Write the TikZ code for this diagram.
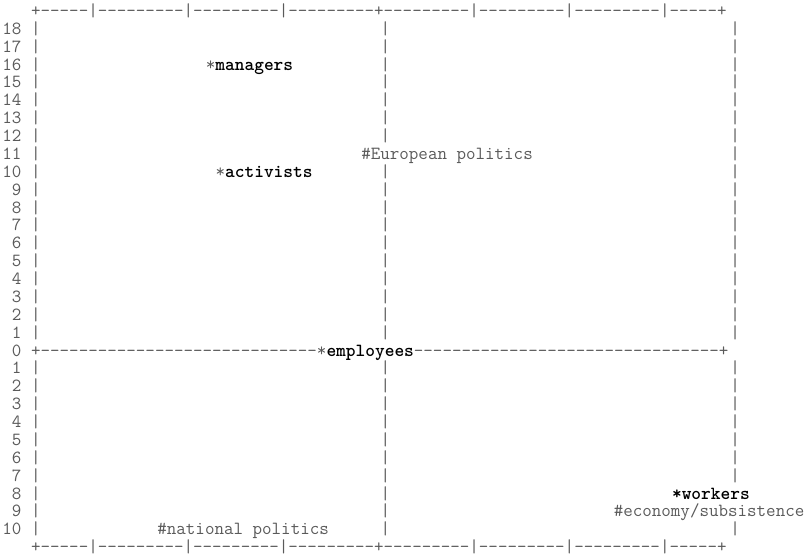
\documentclass[tikz,border=0pt]{standalone}
\definecolor{ink}{HTML}{5A5A5A}
\definecolor{boldink}{HTML}{000000}
\ExplSyntaxOn
\NewDocumentCommand{\dashes}{m}{\prg_replicate:nn {#1} {-{}}}
\ExplSyntaxOff
\newcommand{\bw}[1]{\textcolor{boldink}{\bfseries #1}}
\newcommand{\border}{+\dashes{5}|\dashes{9}|\dashes{9}|\dashes{9}+\dashes{9}|\dashes{9}|\dashes{9}|\dashes{5}+}
\tikzset{
  ch/.style={anchor=base west, inner sep=0pt, outer sep=0pt,
    font=\ttfamily\fontsize{18.5}{17.87}\selectfont, text=ink},
  lab/.style={ch, anchor=base east},
}
\begin{document}
\begin{tikzpicture}[x=9.71pt,y=-17.87pt]
\fill[white] (-0.206,-0.923) rectangle (83.0,30.022);
\useasboundingbox (-0.206,-0.923) rectangle (83.0,30.022);
% top and bottom borders
\node[ch] (top) at (3,0) {\border};
\node[ch] (bottom) at (3,30) {\raisebox{0pt}[\height][0pt]{\border}};
% row labels
\foreach \l in {1,...,18}{
  \pgfmathtruncatemacro{\n}{19-\l}
  \node[lab] (ua\l) at (2,\l) {\n};
}
\node[lab] (zero) at (2,19) {0};
\foreach \l in {20,...,29}{
  \pgfmathtruncatemacro{\n}{\l-19}
  \node[lab] (la\l) at (2,\l) {\n};
}
% left bars
\foreach \l in {1,...,18,20,21,22,23,24,25,26,27,28,29}{
  \node[ch] (lb\l) at (3,\l) {|};
}
% middle bars
\foreach \l in {1,2,3,4,5,6,7,9,10,11,12,13,14,15,16,17,18,20,21,22,23,24,25,26,27,28,29}{
  \node[ch] (mb\l) at (39,\l) {|};
}
% right bars
\foreach \l in {1,...,18,20,21,22,23,24,25,26,29}{
  \node[ch] (rb\l) at (75,\l) {|};
}
% axis line
\node[ch] (axis) at (3,19) {+\dashes{29}*\bw{employees}\dashes{32}+};
% labels
\node[ch] (managers) at (21,3) {*\bw{managers}};
\node[ch] (european) at (37,8) {\#European politics};
\node[ch] (activists) at (22,9) {*\bw{activists}};
\node[ch] (workers) at (69,27) {\bw{*workers}};
\node[ch] (economy) at (63,28) {\#economy/subsistence};
\node[ch] (national) at (16,29) {\#national politics};
\end{tikzpicture}
\end{document}
